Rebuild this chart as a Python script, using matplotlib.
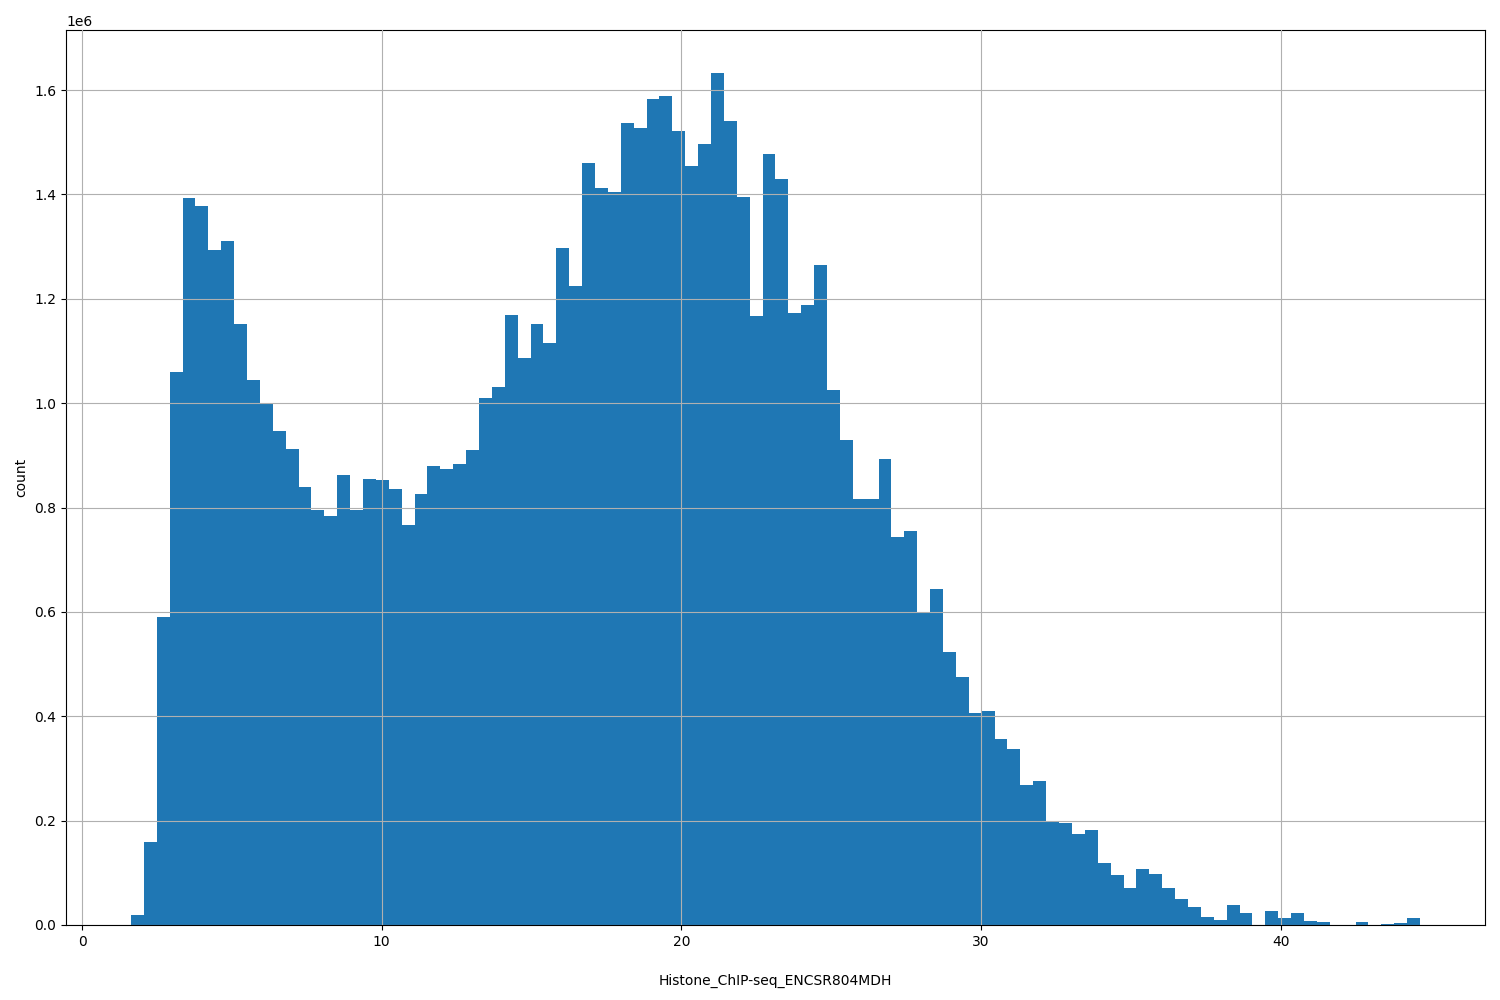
import numpy as np
import matplotlib.pyplot as plt

x_min = 1.635
x_max = 44.64
counts = [0.02, 0.16, 0.59, 1.06, 1.393, 1.378, 1.293, 1.31, 1.152, 1.045,
          1.0, 0.946, 0.912, 0.84, 0.795, 0.784, 0.862, 0.796, 0.855, 0.852,
          0.835, 0.767, 0.826, 0.88, 0.873, 0.883, 0.91, 1.01, 1.03, 1.168,
          1.087, 1.152, 1.115, 1.297, 1.225, 1.46, 1.412, 1.404, 1.537, 1.528,
          1.583, 1.588, 1.522, 1.455, 1.497, 1.633, 1.541, 1.395, 1.167, 1.477,
          1.43, 1.173, 1.188, 1.265, 1.025, 0.93, 0.817, 0.817, 0.893, 0.743,
          0.755, 0.598, 0.644, 0.523, 0.476, 0.407, 0.41, 0.357, 0.338, 0.268,
          0.276, 0.2, 0.195, 0.175, 0.182, 0.118, 0.095, 0.07, 0.107, 0.098,
          0.07, 0.05, 0.034, 0.015, 0.01, 0.038, 0.023, 0.0, 0.027, 0.013,
          0.023, 0.008, 0.005, 0.0, 0.0, 0.006, 0.0, 0.001, 0.004, 0.013]

edges = np.linspace(x_min, x_max, len(counts) + 1)
centers = (edges[:-1] + edges[1:]) / 2

fig = plt.figure(figsize=(15, 10), dpi=100)
ax = fig.add_axes([0.044, 0.075, 0.946, 0.895])
ax.hist(centers, bins=edges, weights=np.array(counts) * 1e6, color='#1f77b4')
ax.grid(True)
ax.set_axisbelow(False)
ax.set_xlim(-0.534, 46.81)
ax.set_ylim(0, 1.715e6)
ax.set_xlabel('Histone_ChIP-seq_ENCSR804MDH', labelpad=18)
ax.set_ylabel('count')
fig.savefig('out.png')
